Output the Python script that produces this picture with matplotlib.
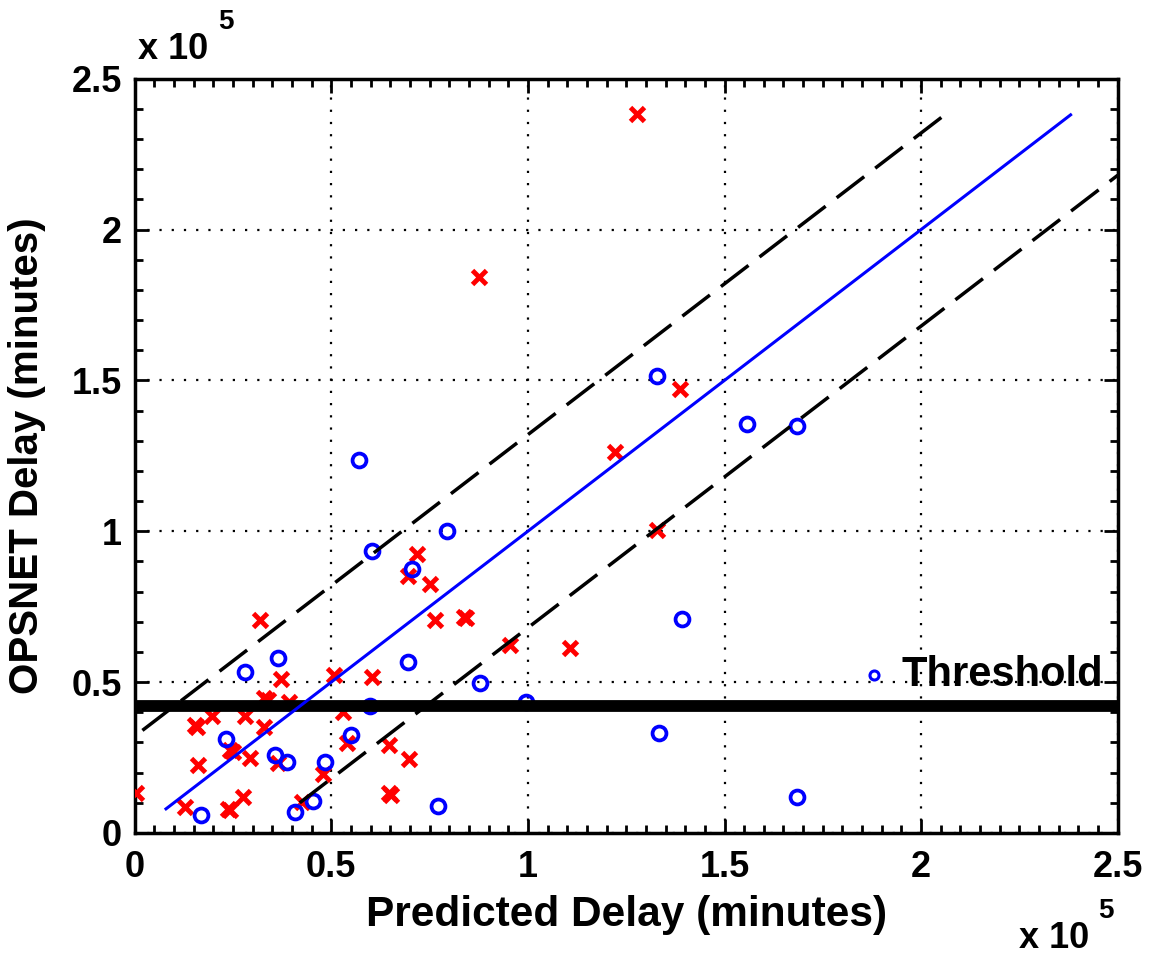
import numpy as np
import matplotlib
matplotlib.use('Agg')
import matplotlib.pyplot as plt
from matplotlib.ticker import MultipleLocator

plt.rcParams['font.family'] = ['Liberation Sans', 'DejaVu Sans']
plt.rcParams['font.weight'] = 'bold'

# values in units of 1e5 minutes
red_x = [1.277, 0.876, 1.387, 1.222, 0.719, 0.696, 0.751, 0.765, 0.837, 0.842,
         0.319, 0.373, 0.508, 0.603, 0.330, 0.340, 0.392, 0.531, 0.198, 0.280,
         0.153, 0.158, 0.330, 0.243, 0.250, 0.294, 0.366, 0.162, 0.541, 0.479,
         0.646, 0.697, 0.648, 0.652, 0.004, 0.129, 0.238, 0.242, 0.277, 0.427,
         1.328, 0.955, 1.108]
red_y = [2.382, 1.843, 1.473, 1.263, 0.924, 0.853, 0.825, 0.706, 0.717, 0.712,
         0.706, 0.511, 0.525, 0.518, 0.448, 0.440, 0.433, 0.400, 0.387, 0.388,
         0.357, 0.350, 0.352, 0.275, 0.268, 0.249, 0.232, 0.226, 0.297, 0.195,
         0.290, 0.245, 0.132, 0.127, 0.132, 0.087, 0.081, 0.076, 0.119, 0.104,
         1.004, 0.623, 0.614]

blue_x = [0.571, 1.328, 1.557, 1.685, 0.795, 0.603, 0.706, 0.364, 0.282, 0.695,
          0.598, 0.232, 0.356, 0.387, 0.551, 0.484, 0.772, 0.168, 0.409, 0.454,
          0.879, 0.995, 1.391, 1.333, 1.685]
blue_y = [1.237, 1.515, 1.357, 1.348, 1.002, 0.936, 0.875, 0.580, 0.535, 0.567,
          0.422, 0.311, 0.259, 0.236, 0.325, 0.234, 0.090, 0.060, 0.071, 0.107,
          0.498, 0.433, 0.708, 0.332, 0.120]

fit_x = [0.08, 2.38]
band = 0.32
upper_x = [0.02, 2.06]
lower_x = [0.42, 2.70]
threshold = 0.42
ticks = [0, 0.5, 1, 1.5, 2, 2.5]
tick_labels = ['0', '0.5', '1', '1.5', '2', '2.5']

fig = plt.figure(figsize=(11.5, 9.59), dpi=100)
ax = fig.add_axes([0.117, 0.1314, 0.855, 0.7866])

ax.plot(red_x, red_y, 'x', color='red', markersize=10, markeredgewidth=3.5, zorder=3)
ax.plot(blue_x, blue_y, 'o', markerfacecolor='none', markeredgecolor='blue',
        markersize=10, markeredgewidth=2.7, zorder=3)
ax.axhline(threshold, color='black', linewidth=8.5, zorder=4)
ax.plot(fit_x, fit_x, color='blue', linewidth=2.2, zorder=5)
ax.plot(upper_x, np.array(upper_x) + band, color='black', linewidth=2.5,
        dashes=(10, 4), zorder=5)
ax.plot(lower_x, np.array(lower_x) - band, color='black', linewidth=2.5,
        dashes=(10, 4), zorder=5)

# legend-like threshold note
ax.plot([1.879], [0.524], 'o', markerfacecolor='none', markeredgecolor='blue',
        markersize=6.5, markeredgewidth=2.2, zorder=6)
ax.text(1.95, 0.524, 'Threshold', fontsize=30, fontweight='bold',
        va='center', ha='left', zorder=6)

ax.set_xlim(0, 2.5)
ax.set_ylim(0, 2.5)
ax.set_xticks(ticks, tick_labels)
ax.set_yticks(ticks, tick_labels)
ax.xaxis.set_minor_locator(MultipleLocator(0.05))
ax.yaxis.set_minor_locator(MultipleLocator(0.1))
ax.tick_params(which='both', direction='in', top=True, right=True,
               width=2, labelsize=26, pad=9)
ax.tick_params(axis='x', which='major', pad=12)
ax.tick_params(which='major', length=10)
ax.tick_params(which='minor', length=6)
for lbl in ax.get_xticklabels() + ax.get_yticklabels():
    lbl.set_fontweight('bold')
for sp in ax.spines.values():
    sp.set_linewidth(2.5)
ax.grid(True, which='major', color='black', linestyle=(0, (1, 4.5)), linewidth=1.6)
ax.set_axisbelow(True)

ax.set_xlabel('Predicted Delay (minutes)', fontsize=30.5, fontweight='bold')
ax.set_ylabel('OPSNET Delay (minutes)', fontsize=29, fontweight='bold')
ax.xaxis.set_label_coords(0.5, -0.082)
ax.yaxis.set_label_coords(-0.09, 0.5)

# exponent labels
fig.text(0.120, 0.930, 'x 10', fontsize=26, fontweight='bold', ha='left', va='bottom')
fig.text(0.190, 0.963, '5', fontsize=20, ha='left', va='bottom')
fig.text(0.886, 0.003, 'x 10', fontsize=26, fontweight='bold', ha='left', va='bottom')
fig.text(0.955, 0.037, '5', fontsize=20, ha='left', va='bottom')

fig.savefig('out.png', dpi=100)
